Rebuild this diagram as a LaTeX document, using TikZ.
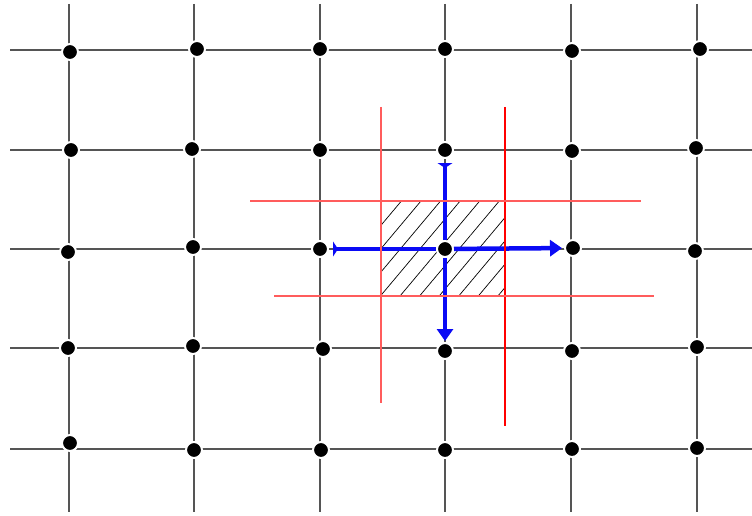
\documentclass[tikz,border=0pt]{standalone}
\usepackage{tikz}
\usetikzlibrary{arrows.meta,patterns.meta}
\definecolor{gridgrey}{HTML}{555555}
\definecolor{facered}{HTML}{FF5C5C}
\definecolor{fluxblue}{HTML}{0A0AF5}

\begin{document}
\begin{tikzpicture}[
    x=1pt, y=-1pt,
    gridline/.style={gridgrey, line width=1.7pt},
    faceline/.style={facered, line width=1.3pt},
    gpoint/.style={circle, fill=black, draw=white, line width=2pt, minimum size=16pt, inner sep=0pt},
    flux/.style={fluxblue, line width=4.5pt}
]
\useasboundingbox (0,0) rectangle (752,516);

% Mesh
\foreach \x in {69,194,320,445,571,697}
    \draw[gridline] (\x,4) -- (\x,512);
\foreach \y in {50,150,249,348,449}
    \draw[gridline] (10,\y) -- (752,\y);

% Control volume
\fill[pattern={Lines[angle=50,distance=15pt,line width=0.7pt]}] (381,201) rectangle (505,296);

% Grid points
\foreach \n/\x/\y in {1-1/70/52, 2-1/197/49, 3-1/320/49, 4-1/445/49, 5-1/572/51, 6-1/700/49,
                      1-2/71/150, 2-2/192/149, 3-2/320/150, 4-2/445/150, 5-2/572/151, 6-2/696/148,
                      1-3/68/252, 2-3/193/247, 3-3/320/249, 4-3/445/249, 5-3/573/248, 6-3/695/251,
                      1-4/68/348, 2-4/193/346, 3-4/323/349, 4-4/445/351, 5-4/572/351, 6-4/697/347,
                      1-5/70/443, 2-5/194/450, 3-5/321/450, 4-5/445/450, 5-5/572/449, 6-5/697/448}
    \node[gpoint] (p\n) at (\x,\y) {};

% Fluxes
\draw[flux, -{Triangle[reversed,length=5pt,width=15pt]}, shorten >=4pt] (p4-3) -- (p3-3);
\draw[flux, -{Triangle[length=12pt,width=16pt]}, shorten >=2pt] (p4-3) -- (p5-3);
\draw[flux, -{Triangle[reversed,length=5pt,width=15pt]}, shorten >=4pt] (p4-3) -- (p4-2);
\draw[flux, -{Triangle[length=12pt,width=16pt]}, shorten >=1pt] (p4-3) -- (p4-4);

% Faces
\coordinate (wt) at (381,107);
\coordinate (wb) at (381,403);
\coordinate (et) at (505,107);
\coordinate (eb) at (505,426);
\coordinate (nl) at (250,201);
\coordinate (nr) at (641,201);
\coordinate (sl) at (274,296);
\coordinate (sr) at (654,296);
\draw[faceline] (wt) -- (wb);
\draw[faceline, red] (et) -- (eb);
\draw[faceline] (nl) -- (nr);
\draw[faceline] (sl) -- (sr);
\end{tikzpicture}
\end{document}
